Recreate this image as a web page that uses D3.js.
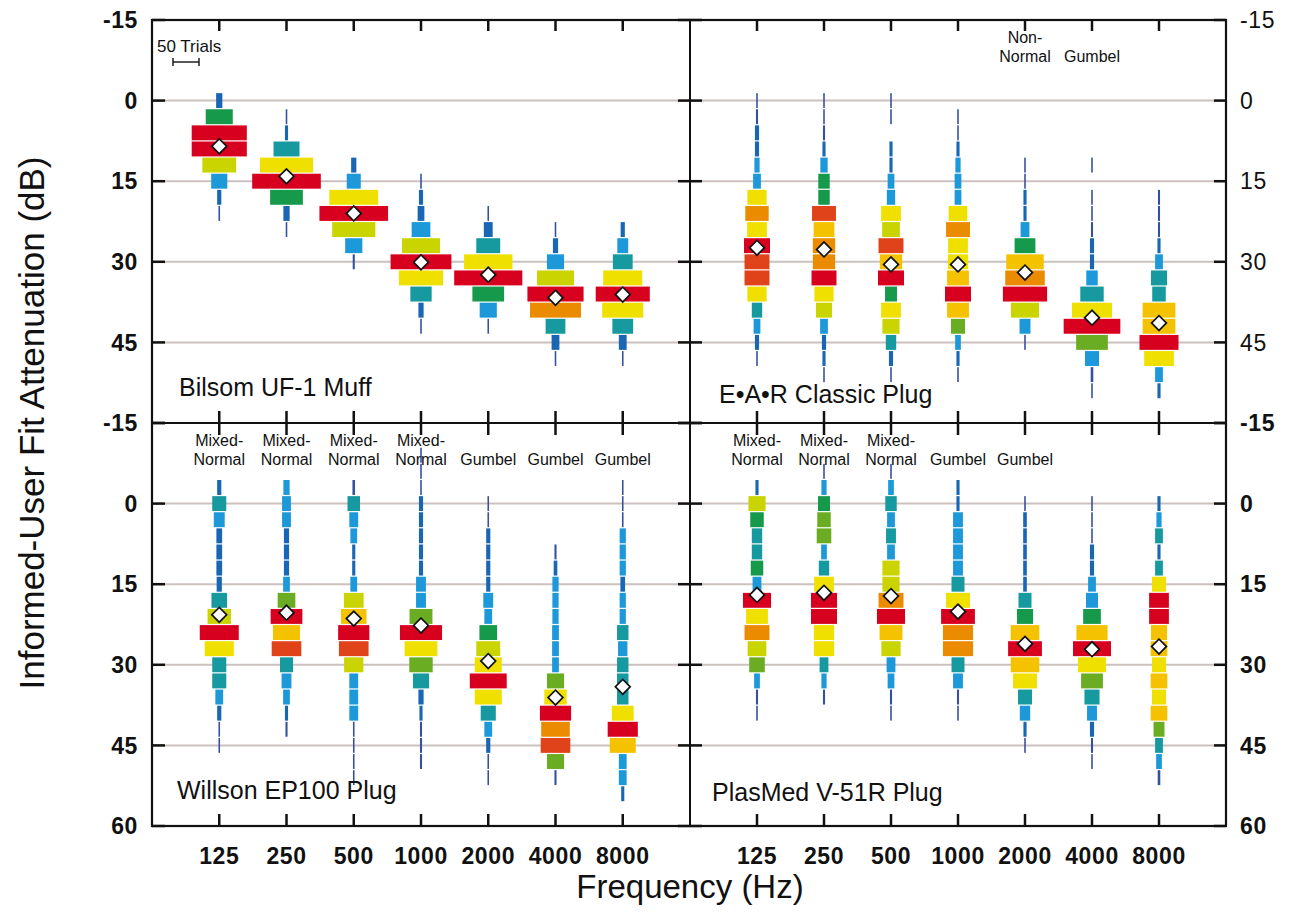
<!DOCTYPE html>
<html><head><meta charset="utf-8">
<script src="https://cdn.jsdelivr.net/npm/d3@7"></script>
<style>
body{margin:0;background:#fff}
svg{display:block}
text{font-family:"Liberation Sans",Arial,Helvetica,sans-serif;fill:#111}
</style>
</head><body>
<svg id="chart" width="1289" height="924"></svg>
<script>
// ---------------- DATA ----------------
const frequencies = ["125", "250", "500", "1000", "2000", "4000", "8000"];
const yTickValues = [-15, 0, 15, 30, 45, 60];
const gridValues = [0, 15, 30, 45];
const binDb = 3;               // each histogram bin spans 3 dB, centred on multiples of 3
const scaleTrials = 50;        // "50 Trials" reference bar

// Bilsom UF-1 Muff: first bin centre (dB) and trial counts per 3-dB bin, mean
const bilsomStart = [0, 3, 12, 15, 21, 24, 24];
const bilsomCounts = [
  [12, 52, 106, 106, 65, 31, 8, 3],
  [3, 6, 50, 102, 132, 63, 12, 3],
  [10, 27, 94, 132, 83, 33, 4],
  [3, 8, 13, 36, 73, 117, 85, 41, 10, 3],
  [3, 17, 46, 93, 131, 61, 33, 3],
  [3, 10, 33, 71, 108, 98, 38, 15, 3],
  [8, 21, 38, 75, 104, 79, 40, 15, 3]
];
const bilsomMeans = [8.5, 14.1, 21.0, 30.1, 32.4, 36.7, 36.1];
const bilsomFits = ["", "", "", "", "", "", ""];

// E•A•R Classic Plug
const earStart = [0, 0, 0, 3, 12, 12, 18];
const earCounts = [
  [3, 4, 8, 8, 10, 15, 37, 45, 38, 50, 48, 48, 37, 20, 13, 8, 3],
  [3, 3, 4, 6, 14, 22, 22, 46, 40, 43, 43, 48, 37, 31, 15, 8, 6, 3],
  [3, 3, 0, 6, 6, 13, 16, 38, 34, 48, 43, 50, 23, 38, 33, 20, 8, 3],
  [3, 3, 6, 10, 13, 13, 36, 46, 38, 39, 42, 50, 42, 27, 11, 6, 3],
  [3, 3, 6, 6, 17, 40, 72, 76, 85, 54, 21, 3],
  [3, 0, 3, 3, 4, 8, 8, 22, 45, 77, 109, 61, 27, 5, 3],
  [4, 4, 4, 6, 15, 31, 26, 63, 63, 75, 57, 15, 6]
];
const earMeans = [27.4, 27.7, 30.5, 30.5, 32.0, 40.4, 41.4];
const earFits = ["", "", "", "", "Non-Normal", "Gumbel", ""];

// Willson EP100 Plug
const willsonStart = [-3, -3, -3, -9, 0, 9, -3];
const willsonCounts = [
  [8, 27, 21, 11, 11, 11, 10, 30, 45, 75, 56, 27, 27, 15, 8, 3, 3],
  [12, 17, 17, 10, 10, 10, 13, 34, 61, 52, 57, 25, 19, 13, 6, 4],
  [5, 24, 17, 13, 6, 6, 13, 38, 49, 60, 57, 37, 17, 17, 17, 3, 3, 3, 3],
  [3, 3, 3, 8, 8, 8, 8, 8, 19, 19, 44, 81, 63, 45, 31, 10, 6, 4, 4, 4],
  [3, 3, 8, 8, 8, 8, 19, 15, 34, 46, 52, 71, 52, 29, 15, 8, 3, 3],
  [4, 7, 12, 12, 12, 13, 13, 13, 33, 43, 60, 55, 57, 33, 4],
  [3, 3, 3, 12, 12, 12, 9, 12, 12, 22, 18, 22, 22, 22, 42, 58, 50, 15, 15, 6]
];
const willsonMeans = [20.7, 20.3, 21.4, 22.7, 29.3, 36.1, 34.1];
const willsonFits = ["Mixed-Normal", "Mixed-Normal", "Mixed-Normal", "Mixed-Normal", "Gumbel", "Gumbel", "Gumbel"];

// PlasMed V-51R Plug
const plasmedStart = [-3, -6, -6, -3, 0, 0, 0];
const plasmedCounts = [
  [6, 33, 26, 20, 20, 24, 17, 54, 42, 48, 36, 30, 11, 4, 3],
  [3, 10, 23, 26, 28, 11, 20, 38, 50, 50, 39, 39, 17, 10, 4],
  [3, 11, 22, 15, 19, 15, 33, 33, 48, 54, 44, 37, 17, 13, 4, 3],
  [6, 6, 19, 19, 19, 19, 25, 46, 65, 58, 58, 25, 19, 4, 3],
  [3, 7, 7, 7, 7, 7, 25, 31, 55, 65, 55, 46, 27, 20, 6, 3],
  [3, 3, 3, 8, 8, 15, 23, 34, 60, 73, 54, 42, 29, 19, 8, 4, 3],
  [6, 10, 15, 6, 15, 27, 38, 38, 31, 32, 27, 32, 27, 32, 21, 15, 11, 5]
];
const plasmedMeans = [17.0, 16.6, 17.2, 20.1, 26.1, 27.1, 26.6];
const plasmedFits = ["Mixed-Normal", "Mixed-Normal", "Mixed-Normal", "Gumbel", "Gumbel", "", ""];

const panelTitles = ["Bilsom UF-1 Muff", "E\u2022A\u2022R Classic Plug", "Willson EP100 Plug", "PlasMed V-51R Plug"];

// ---------------- LAYOUT ----------------
const L = 152, M = 690, R = 1226, T = 20, MID = 423, B = 826;
const svg = d3.select("#chart");

const xLeft = d3.scaleLinear().domain([0, 8]).range([L, M]);
const xRight = d3.scaleLinear().domain([0, 8]).range([M, R]);
const yTop = d3.scaleLinear().domain([-15, 60]).range([T, MID]);
const yBot = d3.scaleLinear().domain([-15, 60]).range([MID, B]);
const wScale = d3.scaleLinear().domain([0, scaleTrials]).range([0, 26]);

const colorScale = d3.scaleThreshold()
  .domain([0.19, 0.33, 0.42, 0.5, 0.6, 0.7, 0.8, 0.87, 0.93, 0.975])
  .range(["#1866b4", "#1d99da", "#16999f", "#17994c", "#6aad22", "#c9d400",
          "#efe000", "#f5c200", "#eb8c00", "#e0431a", "#d7001f"]);
function binColor(c, max) {
  const f = c / max;
  if (f < 0.19 && c < 6) return "#34509e";
  return colorScale(f);
}

const panels = [
  {x: xLeft,  y: yTop, start: bilsomStart,  counts: bilsomCounts,  means: bilsomMeans,  fits: bilsomFits,  title: panelTitles[0], tx: 179, ty: 396, top: T},
  {x: xRight, y: yTop, start: earStart,     counts: earCounts,     means: earMeans,     fits: earFits,     title: panelTitles[1], tx: 719, ty: 403, top: T},
  {x: xLeft,  y: yBot, start: willsonStart, counts: willsonCounts, means: willsonMeans, fits: willsonFits, title: panelTitles[2], tx: 177, ty: 799, top: MID},
  {x: xRight, y: yBot, start: plasmedStart, counts: plasmedCounts, means: plasmedMeans, fits: plasmedFits, title: panelTitles[3], tx: 712, ty: 801, top: MID}
];

// gridlines
const grid = svg.append("g");
[yTop, yBot].forEach(y => {
  gridValues.forEach(v => {
    grid.append("line").attr("x1", L).attr("x2", R).attr("y1", y(v)).attr("y2", y(v))
      .attr("stroke", "#cbc1be").attr("stroke-width", 2);
  });
});

// histograms
panels.forEach(p => {
  const g = svg.append("g");
  p.counts.forEach((arr, i) => {
    const cx = p.x(i + 1);
    const max = d3.max(arr);
    arr.forEach((c, k) => {
      if (c <= 0) return;
      const centre = p.start[i] + k * binDb;
      const y0 = p.y(centre - binDb / 2), y1 = p.y(centre + binDb / 2);
      const w = wScale(c);
      g.append("rect")
        .attr("x", cx - w / 2).attr("width", w)
        .attr("y", y0 + 0.6).attr("height", y1 - y0 - 1.2)
        .attr("fill", binColor(c, max));
    });
    g.append("path")
      .attr("d", d3.symbol(d3.symbolSquare, 110)())
      .attr("transform", `translate(${cx},${p.y(p.means[i])}) rotate(45)`)
      .attr("fill", "#fff").attr("stroke", "#111").attr("stroke-width", 1.7);
    // distribution fit labels
    const fit = p.fits[i];
    if (fit) {
      const parts = fit.includes("-") ? [fit.split("-")[0] + "-", fit.split("-")[1]] : ["", fit];
      parts.forEach((t, j) => {
        if (!t) return;
        svg.append("text").attr("x", cx).attr("y", p.top + 23 + j * 18.5)
          .attr("text-anchor", "middle").attr("font-size", 16).text(t);
      });
    }
  });
  svg.append("text").attr("x", p.tx).attr("y", p.ty).attr("font-size", 25).text(p.title);
});

// frame
const frame = svg.append("g").attr("stroke", "#111").attr("fill", "none");
frame.append("rect").attr("x", L).attr("y", T).attr("width", R - L).attr("height", B - T).attr("stroke-width", 2.2);
frame.append("line").attr("x1", M).attr("x2", M).attr("y1", T).attr("y2", B).attr("stroke-width", 2);
frame.append("line").attr("x1", L).attr("x2", R).attr("y1", MID).attr("y2", MID).attr("stroke-width", 2);

// ticks
const ticks = svg.append("g").attr("stroke", "#111").attr("stroke-width", 2.5);
[yTop, yBot].forEach(y => {
  yTickValues.forEach(v => {
    const yy = y(v);
    ticks.append("line").attr("x1", L).attr("x2", L + 13).attr("y1", yy).attr("y2", yy);
    ticks.append("line").attr("x1", M - 12).attr("x2", M + 12).attr("y1", yy).attr("y2", yy);
    ticks.append("line").attr("x1", R - 12).attr("x2", R).attr("y1", yy).attr("y2", yy);
  });
});
[xLeft, xRight].forEach(x => {
  frequencies.forEach((f, i) => {
    const xx = x(i + 1);
    ticks.append("line").attr("x1", xx).attr("x2", xx).attr("y1", T).attr("y2", T + 11);
    ticks.append("line").attr("x1", xx).attr("x2", xx).attr("y1", MID - 12).attr("y2", MID + 12);
    ticks.append("line").attr("x1", xx).attr("x2", xx).attr("y1", B - 12).attr("y2", B);
  });
});

// y tick labels
const tl = svg.append("g").attr("font-size", 23).attr("letter-spacing", 0.6);
yTickValues.forEach(v => {
  if (v !== 60) {
    tl.append("text").attr("x", 138).attr("y", yTop(v)).attr("dy", "0.36em").attr("text-anchor", "end")
      .attr("font-weight", "bold").text(v);
    tl.append("text").attr("x", 1240).attr("y", yTop(v)).attr("dy", "0.36em").attr("text-anchor", "start")
      .text(v);
  }
  tl.append("text").attr("x", 138).attr("y", yBot(v)).attr("dy", "0.36em").attr("text-anchor", "end")
    .attr("font-weight", "bold").text(v);
  tl.append("text").attr("x", 1240).attr("y", yBot(v)).attr("dy", "0.36em").attr("text-anchor", "start")
    .attr("font-weight", "bold").text(v);
});
// x tick labels
[xLeft, xRight].forEach(x => {
  frequencies.forEach((f, i) => {
    tl.append("text").attr("x", x(i + 1)).attr("y", 864).attr("text-anchor", "middle")
      .attr("font-weight", "bold").text(f);
  });
});

// 50-trials reference bar
svg.append("text").attr("x", 157).attr("y", 52).attr("font-size", 17).text("50 Trials");
const sb = svg.append("g").attr("stroke", "#111").attr("stroke-width", 1.4);
const sx0 = 173, sx1 = 173 + wScale(scaleTrials);
sb.append("line").attr("x1", sx0).attr("x2", sx1).attr("y1", 62).attr("y2", 62);
sb.append("line").attr("x1", sx0).attr("x2", sx0).attr("y1", 58).attr("y2", 66);
sb.append("line").attr("x1", sx1).attr("x2", sx1).attr("y1", 58).attr("y2", 66);

// axis titles
svg.append("text").attr("x", 690).attr("y", 898).attr("text-anchor", "middle").attr("font-size", 33)
  .text("Frequency (Hz)");
svg.append("text").attr("transform", "translate(44,423) rotate(-90)").attr("text-anchor", "middle")
  .attr("font-size", 35).text("Informed-User Fit Attenuation (dB)");
</script>
</body></html>
